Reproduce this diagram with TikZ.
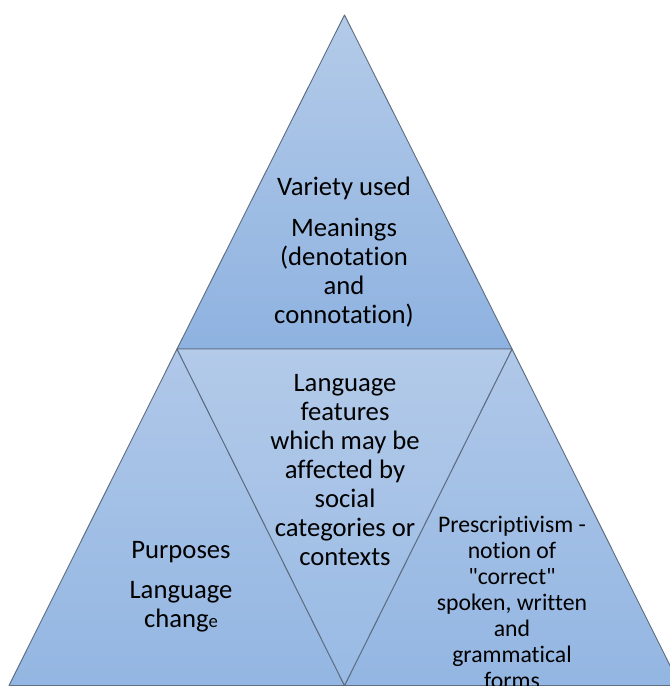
\documentclass[tikz,border=0pt]{standalone}
\usepackage{fontspec}
\setmainfont{Carlito}[Ligatures={TeXOff,NoCommon}]
\definecolor{edgegray}{HTML}{5E6E82}
\definecolor{tritop}{HTML}{B4CBE9}
\definecolor{tribot}{HTML}{8EB2E0}
\definecolor{midtop}{HTML}{B3CAE9}
\definecolor{midbot}{HTML}{98BAE4}
\definecolor{sidetop}{HTML}{B0C8E9}
\definecolor{sidebot}{HTML}{93B6E2}
\begin{document}
\begin{tikzpicture}[x=0.75pt, y=-0.75pt,
    tri/.style={draw=edgegray, line width=0.7pt, line join=round},
    label/.style={align=center, inner sep=0pt, text=black, font=\fontsize{20}{21.75}\selectfont},
    smalllabel/.style={align=center, inner sep=0pt, text=black, font=\fontsize{17.8}{19.5}\selectfont}]
        \useasboundingbox (0,0) rectangle (670,686);
        \clip (0,0) rectangle (670,686);

        \coordinate (apex) at (344.5,15);
        \coordinate (midL) at (177,349);
        \coordinate (midR) at (512,349);
        \coordinate (botL) at (9,685.5);
        \coordinate (botM) at (344.5,685.5);
        \coordinate (botR) at (680,685.5);

        \draw[tri, top color=tritop, bottom color=tribot] (apex) -- (midL) -- (midR) -- cycle;
        \draw[tri, top color=sidetop, bottom color=sidebot] (midL) -- (botL) -- (botM) -- cycle;
        \draw[tri, top color=sidetop, bottom color=sidebot] (midR) -- (botM) -- (botR) -- cycle;
        \draw[tri, top color=midtop, bottom color=midbot] (midL) -- (midR) -- (botM) -- cycle;

        \node[label] (top) at (344,252) {Variety used\\[9pt]Meanings\\(denotation\\and\\connotation)};
        \node[label] (middle) at (345,470) {Language\\features\\which may be\\affected by\\social\\categories or\\contexts};
        \node[label] (left) at (181,587) {Purposes\\[8pt]Language\\chang{\fontsize{14}{14}\selectfont e}};
        \node[smalllabel] (right) at (512,602) {Prescriptivism -\\notion of\\"correct"\\spoken, written\\and\\grammatical\\forms};
      \end{tikzpicture}
\end{document}
